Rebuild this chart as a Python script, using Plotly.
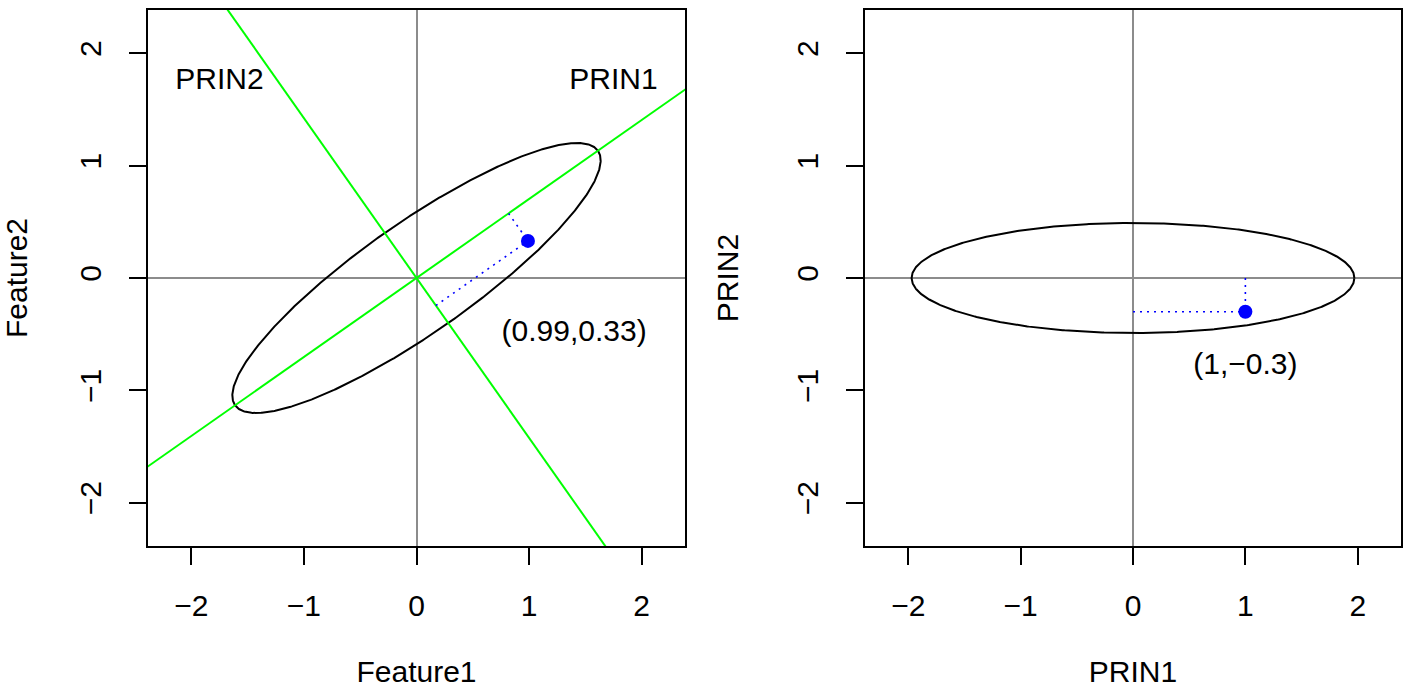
import numpy as np
import plotly.graph_objects as go

# ---- data ----
point_feat = [0.99, 0.33]       # observation in Feature space
point_prin = [1.0, -0.3]        # same observation in PRIN space
pc1_dir = [0.818, 0.575]        # PRIN1 loading vector
pc2_dir = [-0.575, 0.818]       # PRIN2 loading vector
ellipse_axes = [1.97, 0.49]     # semi-axes along PRIN1, PRIN2
tick_vals = [-2, -1, 0, 1, 2]
axis_names_left = ["PRIN2", "PRIN1"]
axis_name_pos_x = [-1.75, 1.75]
axis_name_pos_y = [1.75, 1.75]
label_left = "(0.99,0.33)"
label_left_pos = [1.40, -0.49]
label_right = "(1,\u22120.3)"
label_right_pos = [1.0, -0.79]

FONT = "Liberation Sans, Arial, sans-serif"
FS = 30
AX_RANGE = [-2.385, 2.385]

t = np.linspace(0, 2 * np.pi, 721)
u = ellipse_axes[0] * np.cos(t)
v = ellipse_axes[1] * np.sin(t)
ell_x_left = u * pc1_dir[0] + v * pc2_dir[0]
ell_y_left = u * pc1_dir[1] + v * pc2_dir[1]

line_t = np.array([-5.0, 5.0])

s1 = point_feat[0] * pc1_dir[0] + point_feat[1] * pc1_dir[1]
s2 = point_feat[0] * pc2_dir[0] + point_feat[1] * pc2_dir[1]
proj1 = [s1 * pc1_dir[0], s1 * pc1_dir[1]]
proj2 = [s2 * pc2_dir[0], s2 * pc2_dir[1]]

fig = go.Figure()
black = dict(color="black", width=2)
green = dict(color="#00FF00", width=2)
dotted = dict(color="#0000FF", width=1.6, dash="2px,5px")

# left panel
fig.add_trace(go.Scatter(x=ell_x_left, y=ell_y_left, mode="lines", line=black, xaxis="x", yaxis="y"))
fig.add_trace(go.Scatter(x=line_t * pc1_dir[0], y=line_t * pc1_dir[1], mode="lines", line=green, xaxis="x", yaxis="y"))
fig.add_trace(go.Scatter(x=line_t * pc2_dir[0], y=line_t * pc2_dir[1], mode="lines", line=green, xaxis="x", yaxis="y"))
fig.add_trace(go.Scatter(x=[proj2[0], point_feat[0]], y=[proj2[1], point_feat[1]], mode="lines", line=dotted, xaxis="x", yaxis="y"))
fig.add_trace(go.Scatter(x=[proj1[0], point_feat[0]], y=[proj1[1], point_feat[1]], mode="lines", line=dotted, xaxis="x", yaxis="y"))
fig.add_trace(go.Scatter(x=[point_feat[0]], y=[point_feat[1]], mode="markers",
                         marker=dict(color="#0000FF", size=14), xaxis="x", yaxis="y"))
fig.add_trace(go.Scatter(x=axis_name_pos_x + [label_left_pos[0]], y=axis_name_pos_y + [label_left_pos[1]],
                         mode="text", text=axis_names_left + [label_left],
                         textfont=dict(family=FONT, size=FS, color="black"), xaxis="x", yaxis="y"))

# right panel
fig.add_trace(go.Scatter(x=u, y=v, mode="lines", line=black, xaxis="x2", yaxis="y2"))
fig.add_trace(go.Scatter(x=[0, point_prin[0]], y=[point_prin[1], point_prin[1]], mode="lines", line=dotted, xaxis="x2", yaxis="y2"))
fig.add_trace(go.Scatter(x=[point_prin[0], point_prin[0]], y=[0, point_prin[1]], mode="lines", line=dotted, xaxis="x2", yaxis="y2"))
fig.add_trace(go.Scatter(x=[point_prin[0]], y=[point_prin[1]], mode="markers",
                         marker=dict(color="#0000FF", size=14), xaxis="x2", yaxis="y2"))
fig.add_trace(go.Scatter(x=[label_right_pos[0]], y=[label_right_pos[1]], mode="text", text=[label_right],
                         textfont=dict(family=FONT, size=FS, color="black"), xaxis="x2", yaxis="y2"))

W, H = 1403, 688
ydom = [1 - 546 / H, 1 - 10 / H]

def xax(dom, title, anchor):
    return dict(domain=dom, range=AX_RANGE, anchor=anchor, tickvals=tick_vals,
                ticks="outside", ticklen=17, tickwidth=2, tickcolor="black",
                showline=True, mirror=True, linecolor="black", linewidth=2,
                showgrid=False, zeroline=True, zerolinecolor="#8C8C8C", zerolinewidth=2,
                ticklabelstandoff=15, tickfont=dict(family=FONT, size=FS, color="black"),
                title=dict(text=title, font=dict(family=FONT, size=FS, color="black"), standoff=50),
                automargin=False, fixedrange=True)

def yax(anchor, title):
    d = xax(ydom, title, anchor)
    d["tickangle"] = -90
    d["ticklabelstandoff"] = 16
    d["title"]["standoff"] = 44
    return d

fig.update_layout(
    width=W, height=H,
    margin=dict(l=0, r=0, t=0, b=0),
    paper_bgcolor="white", plot_bgcolor="white",
    showlegend=False,
    xaxis=xax([148 / W, 685 / W], "Feature1", "y"),
    yaxis=yax("x", "Feature2"),
    xaxis2=xax([865 / W, 1401 / W], "PRIN1", "y2"),
    yaxis2=yax("x2", "PRIN2"),
)

fig.write_html("out.html")
